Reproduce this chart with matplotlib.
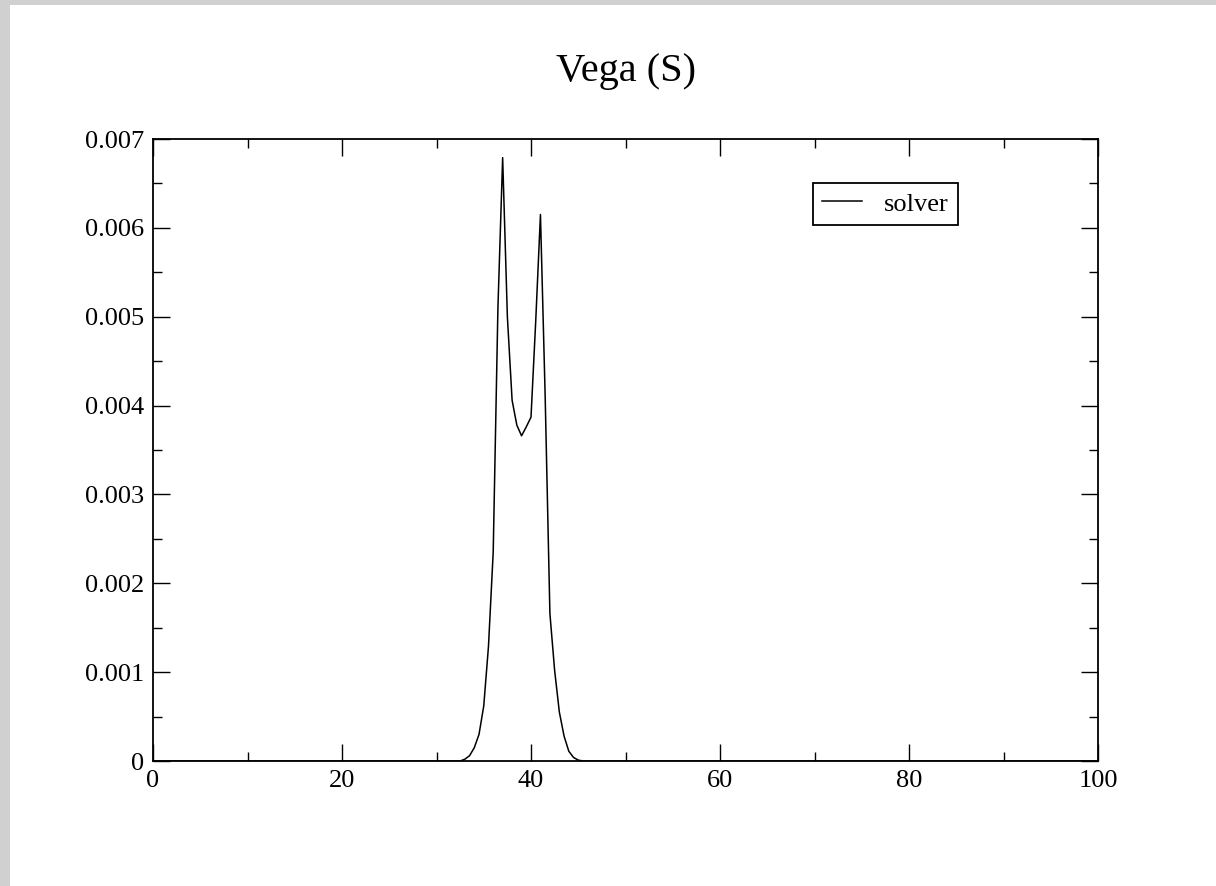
import matplotlib
matplotlib.use("Agg")
import matplotlib.pyplot as plt
from matplotlib.patches import Rectangle
from matplotlib.ticker import MultipleLocator, FuncFormatter

plt.rcParams['font.family'] = ['Liberation Serif', 'DejaVu Serif']

# data
x_vals = [0, 32, 32.5, 33, 33.5, 34, 34.5, 35, 35.5, 36, 36.5, 37, 37.5, 38, 38.5,
          39, 39.5, 40, 40.5, 41, 41.5, 42, 42.5, 43, 43.5, 44, 44.5, 45, 45.5, 100]
y_vals = [0.0, 0.0, 0.0, 0.00002, 0.00006, 0.00015, 0.00030, 0.00062, 0.00129,
          0.00235, 0.00510, 0.00679, 0.00500, 0.00406, 0.00378, 0.00366, 0.00376,
          0.00387, 0.00495, 0.00615, 0.00410, 0.00166, 0.00102, 0.00055, 0.00028,
          0.00011, 0.00004, 0.00001, 0.0, 0.0]
series_name = "solver"
title = "Vega (S)"
x_ticks = [0, 20, 40, 60, 80, 100]
y_ticks = [0, 0.001, 0.002, 0.003, 0.004, 0.005, 0.006, 0.007]

W, H = 1216, 886
fig = plt.figure(figsize=(W / 100, H / 100), dpi=100, facecolor='white')
fig.patches.append(Rectangle((0, 0), 10 / W, 1, transform=fig.transFigure,
                             facecolor='#d0d0d0', edgecolor='none', zorder=-10))
fig.patches.append(Rectangle((0, 1 - 5 / H), 1, 5 / H, transform=fig.transFigure,
                             facecolor='#d0d0d0', edgecolor='none', zorder=-10))

ax = fig.add_axes([153 / W, (H - 761) / H, (1098 - 153) / W, (761 - 139) / H])
ax.plot(x_vals, y_vals, color='black', lw=1.1, label=series_name)
ax.set_xlim(0, 100)
ax.set_ylim(0, 0.007)
ax.set_xticks(x_ticks)
ax.set_yticks(y_ticks)
ax.xaxis.set_minor_locator(MultipleLocator(10))
ax.yaxis.set_minor_locator(MultipleLocator(0.0005))
ax.yaxis.set_major_formatter(FuncFormatter(lambda v, p: '0' if abs(v) < 1e-12 else '%.3f' % v))
ax.tick_params(which='both', direction='in', top=True, right=True, width=1.0, color='black')
ax.tick_params(which='major', length=12, labelsize=19, pad=6.5)
ax.tick_params(which='minor', length=6.5)
for s in ax.spines.values():
    s.set_linewidth(1.3)
ax.set_title(title, fontsize=29, pad=42)

leg = ax.legend(loc='upper left', bbox_to_anchor=(813 / W, 1 - 183 / H),
                bbox_transform=fig.transFigure, borderaxespad=0, fontsize=19,
                frameon=True, fancybox=False, edgecolor='black', framealpha=1,
                handlelength=1.5, handletextpad=0.85, borderpad=0.35)
leg.get_frame().set_linewidth(1.3)

fig.savefig('out.png', dpi=100, facecolor=fig.get_facecolor())
